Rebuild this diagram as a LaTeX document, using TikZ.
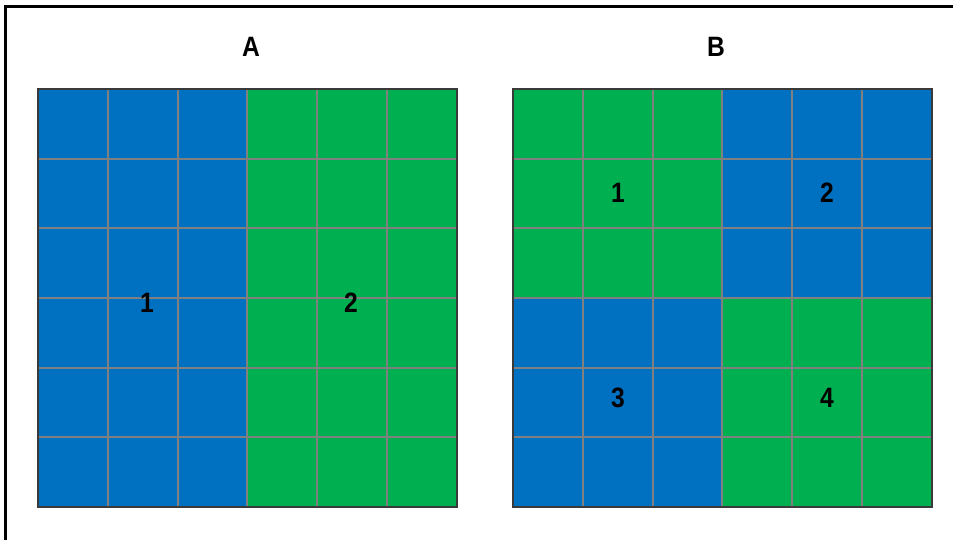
\documentclass[tikz,border=0pt]{standalone}
\usepackage{fontspec}
\setmainfont{Liberation Sans}
\definecolor{cblue}{HTML}{0070C0}
\definecolor{cgreen}{HTML}{00B050}
\definecolor{cgrid}{HTML}{808080}
\definecolor{cedge}{HTML}{3A3A3A}
\begin{document}
\begin{tikzpicture}[x=1pt,y=-1pt,
  lbl/.style={font=\fontsize{28}{28}\selectfont\bfseries, inner sep=0pt, text=black, xscale=0.88},
  gridline/.style={draw=cgrid, line width=2pt},
  edge/.style={draw=cedge, line width=2pt}]
\useasboundingbox (0,0) rectangle (953,539);
\fill[white] (0,0) rectangle (953,539);
% frame
\draw[line width=3pt] (5.5,545) -- (5.5,6.5) -- (960,6.5);
% grid A
\fill[cblue] (38,89) rectangle (247.5,507);
\fill[cgreen] (247.5,89) rectangle (457,507);
% grid B
\fill[cgreen] (513,89) rectangle (722.5,298);
\fill[cblue] (722.5,89) rectangle (932,298);
\fill[cblue] (513,298) rectangle (722.5,507);
\fill[cgreen] (722.5,298) rectangle (932,507);
\foreach \x in {38,513}{
  \foreach \k in {1,...,5}{
    \draw[gridline] ({\x+\k*69.83},89) -- ({\x+\k*69.83},507);
    \draw[gridline] (\x,{89+\k*69.67}) -- ({\x+419},{89+\k*69.67});
  }
  \draw[edge] (\x,89) rectangle ({\x+419},507);
}
% labels
\node[lbl] (tA) at (251,47) {A};
\node[lbl] (tB) at (716,47) {B};
\node[lbl] (a1) at (147,303) {1};
\node[lbl] (a2) at (351,303) {2};
\node[lbl] (b1) at (618,193) {1};
\node[lbl] (b2) at (827,193) {2};
\node[lbl] (b3) at (618,398) {3};
\node[lbl] (b4) at (827,398) {4};
\end{tikzpicture}
\end{document}
